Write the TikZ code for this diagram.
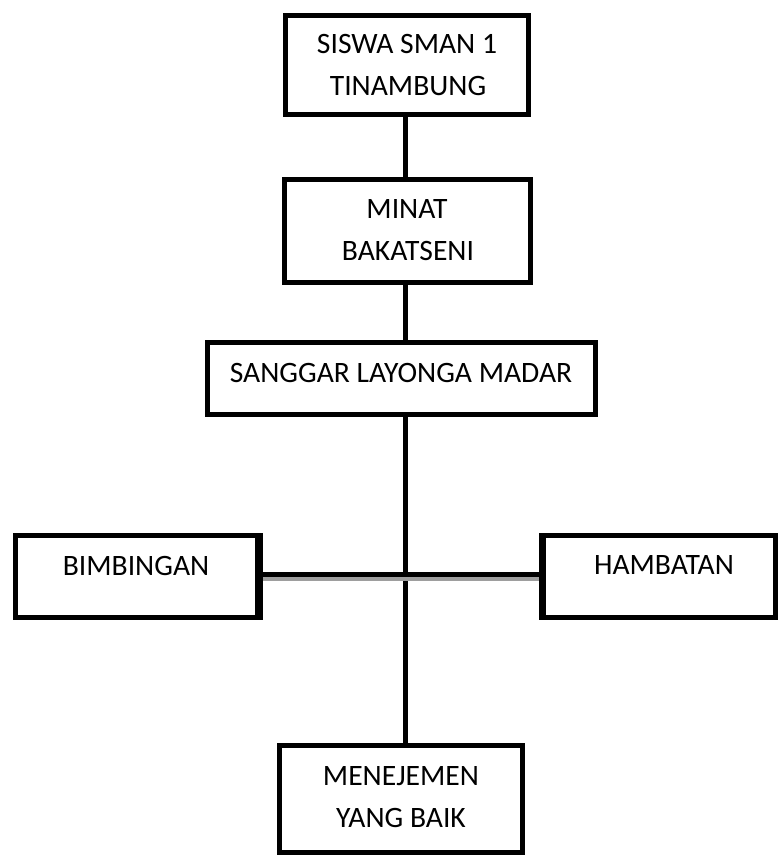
\documentclass[tikz,border=0pt]{standalone}
\usepackage{fontspec}
\setmainfont{Carlito}
\begin{document}
\begin{tikzpicture}[x=1pt,y=-1pt,
  box/.style={draw=black, line width=5pt, fill=white, rectangle, inner sep=0pt},
  txt/.style={font=\fontsize{29.6}{36}\selectfont, anchor=base, inner sep=0pt, text=black},
  link/.style={draw=black, line width=5pt},
  shade/.style={draw=black!38, line width=4pt}]
\useasboundingbox (0,0) rectangle (778,855);
\fill[white] (0,0) rectangle (778,855);
\coordinate (sp) at (405,0);
% boxes
\node[box, minimum width=243pt, minimum height=99pt] (b1) at (407,65) {};
\node[box, minimum width=246pt, minimum height=103pt] (b2) at (407.5,231) {};
\node[box, minimum width=388pt, minimum height=72pt] (b3) at (401.5,378.5) {};
\node[box, minimum width=242pt, minimum height=82pt] (bl) at (136.5,576.5) {};
\node[box, minimum width=232pt, minimum height=82pt] (br) at (659.5,576.5) {};
\node[box, minimum width=243pt, minimum height=107pt] (bb) at (401,799) {};
% connectors
\draw[link] (b1.south -| sp) -- (b2.north -| sp);
\draw[link] (b2.south -| sp) -- (b3.north -| sp);
\draw[link] (b3.south -| sp) -- (bb.north -| sp);
\draw[shade] ([yshift=-2.5pt]bl.east) -- ([yshift=-2.5pt]br.west);
\draw[link] ([yshift=2pt]bl.east) -- ([yshift=2pt]br.west);
% redraw side borders over connector ends
\draw[black, line width=5pt] (bl.north east) -- (bl.south east);
\draw[black, line width=5pt] (br.north west) -- (br.south west);
% texts
\node[txt] (t1a) at (407,53) {SISWA SMAN 1};
\node[txt] (t1b) at (408,95) {TINAMBUNG};
\node[txt] (t2a) at (407,218) {MINAT};
\node[txt] (t2b) at (408,260) {BAKATSENI};
\node[txt] (t3) at (401,382) {SANGGAR LAYONGA MADAR};
\node[txt] (tl) at (136,575) {BIMBINGAN};
\node[txt] (tr) at (664,574) {HAMBATAN};
\node[txt] (tba) at (401,785) {MENEJEMEN};
\node[txt] (tbb) at (401,827) {YANG BAIK};
\end{tikzpicture}
\end{document}
